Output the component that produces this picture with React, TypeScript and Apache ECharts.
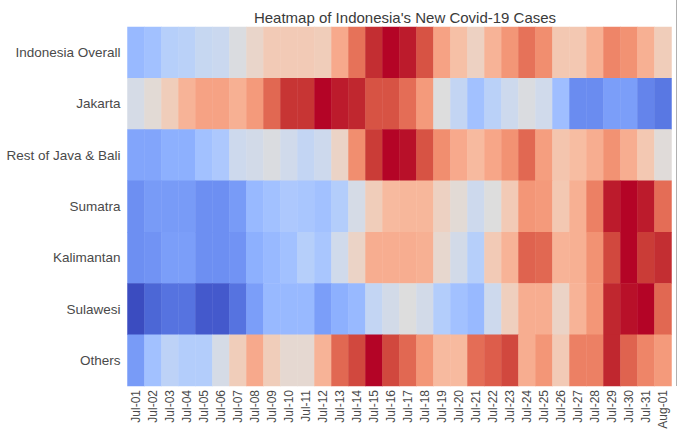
import React, { useEffect, useRef } from "react";
import * as echarts from "echarts";

const days: string[] = [
  "Jul-01","Jul-02","Jul-03","Jul-04","Jul-05","Jul-06","Jul-07","Jul-08",
  "Jul-09","Jul-10","Jul-11","Jul-12","Jul-13","Jul-14","Jul-15","Jul-16",
  "Jul-17","Jul-18","Jul-19","Jul-20","Jul-21","Jul-22","Jul-23","Jul-24",
  "Jul-25","Jul-26","Jul-27","Jul-28","Jul-29","Jul-30","Jul-31","Aug-01",
];

const regions: string[] = [
  "Indonesia Overall",
  "Jakarta",
  "Rest of Java & Bali",
  "Sumatra",
  "Kalimantan",
  "Sulawesi",
  "Others",
];

// normalised intensity per region (0 = min, 1 = max)
const indonesiaOverall = [0.28,0.31,0.37,0.38,0.42,0.43,0.49,0.55,0.6,0.6,0.6,0.59,0.71,0.84,0.96,1.0,0.98,0.9,0.73,0.64,0.57,0.68,0.76,0.84,0.78,0.61,0.61,0.69,0.8,0.77,0.69,0.59];
const jakarta = [0.47,0.52,0.59,0.68,0.73,0.73,0.69,0.75,0.86,0.95,0.95,1.0,0.98,0.97,0.9,0.9,0.85,0.75,0.5,0.41,0.31,0.38,0.44,0.49,0.45,0.3,0.15,0.15,0.2,0.2,0.13,0.1];
const restJavaBali = [0.22,0.22,0.25,0.25,0.31,0.34,0.44,0.46,0.49,0.45,0.41,0.44,0.56,0.78,0.94,1.0,0.99,0.9,0.78,0.71,0.66,0.72,0.77,0.86,0.74,0.62,0.65,0.7,0.77,0.7,0.61,0.51];
const sumatra = [0.16,0.19,0.19,0.19,0.16,0.16,0.19,0.28,0.31,0.34,0.33,0.31,0.36,0.47,0.59,0.66,0.67,0.67,0.57,0.52,0.44,0.5,0.6,0.76,0.75,0.61,0.69,0.81,0.98,1.0,0.98,0.85];
const kalimantan = [0.16,0.17,0.2,0.2,0.16,0.16,0.17,0.25,0.28,0.31,0.37,0.33,0.45,0.56,0.7,0.7,0.7,0.69,0.54,0.46,0.37,0.6,0.68,0.87,0.86,0.68,0.69,0.77,0.92,1.0,0.94,0.96];
const sulawesi = [0.0,0.06,0.09,0.09,0.03,0.03,0.09,0.2,0.28,0.28,0.28,0.2,0.25,0.28,0.41,0.46,0.5,0.46,0.36,0.31,0.28,0.44,0.58,0.7,0.7,0.56,0.68,0.76,0.97,0.99,1.0,0.86];
const others = [0.19,0.31,0.39,0.36,0.36,0.47,0.59,0.71,0.59,0.53,0.53,0.68,0.86,0.92,1.0,0.92,0.86,0.76,0.66,0.66,0.85,0.88,0.92,0.7,0.76,0.6,0.81,0.81,0.97,0.87,0.8,0.75];

const rowsData: number[][] = [indonesiaOverall, jakarta, restJavaBali, sumatra, kalimantan, sulawesi, others];

const coolwarm: string[] = [
  "#3b4cc0","#445acc","#4d68d7","#5775e1","#6282ea","#6c8ef1","#779af7","#82a5fb",
  "#8db0fe","#98b9ff","#a3c2ff","#aec9fd","#b8d0f9","#c2d5f4","#ccd9ee","#d5dbe6",
  "#dddddd","#e5d8d1","#ecd3c5","#f1ccb8","#f5c4ac","#f7bba0","#f7b194","#f7a689",
  "#f49a7b","#f18d6f","#ec7f63","#e57058","#de604d","#d55042","#cb3e38","#c0282f",
  "#b40426",
];

export default function App() {
  const ref = useRef<HTMLDivElement>(null);

  useEffect(() => {
    if (!ref.current) return;
    const chart = echarts.init(ref.current, undefined, { renderer: "svg" });
    const data: [number, number, number][] = [];
    rowsData.forEach((row, r) => {
      row.forEach((v, c) => data.push([c, r, v]));
    });
    chart.setOption({
      animation: false,
      backgroundColor: "#ffffff",
      title: {
        text: "Heatmap of Indonesia's New Covid-19 Cases",
        left: 400,
        textAlign: "center",
        top: 5,
        textStyle: {
          fontFamily: "Liberation Sans, Arial, sans-serif",
          fontSize: 15,
          fontWeight: "normal",
          color: "#3a3a3a",
        },
      },
      grid: { left: 127.5, top: 27, width: 544, height: 359, containLabel: false },
      xAxis: {
        type: "category",
        data: days,
        axisLine: { show: false },
        axisTick: { show: false },
        splitLine: { show: false },
        axisLabel: {
          rotate: 90,
          interval: 0,
          margin: 4,
          fontSize: 12,
          color: "#4a4a4a",
          fontFamily: "Liberation Sans, Arial, sans-serif",
        },
      },
      yAxis: {
        type: "category",
        data: regions,
        inverse: true,
        axisLine: { show: false },
        axisTick: { show: false },
        splitLine: { show: false },
        axisLabel: {
          margin: 7,
          fontSize: 13.5,
          color: "#4a4a4a",
          fontFamily: "Liberation Sans, Arial, sans-serif",
        },
      },
      visualMap: {
        show: false,
        min: 0,
        max: 1,
        calculable: false,
        inRange: { color: coolwarm },
      },
      graphic: [
        {
          type: "line",
          shape: { x1: 676.5, y1: 0, x2: 676.5, y2: 386 },
          style: { stroke: "#b0b0b0", lineWidth: 1 },
        },
      ],
      series: [
        {
          type: "heatmap",
          data,
          itemStyle: { borderWidth: 0 },
          emphasis: { disabled: true },
        },
      ],
    });
    return () => chart.dispose();
  }, []);

  return (
    <div
      ref={ref}
      style={{ position: "fixed", left: 0, top: 0, width: 680, height: 432 }}
    />
  );
}
